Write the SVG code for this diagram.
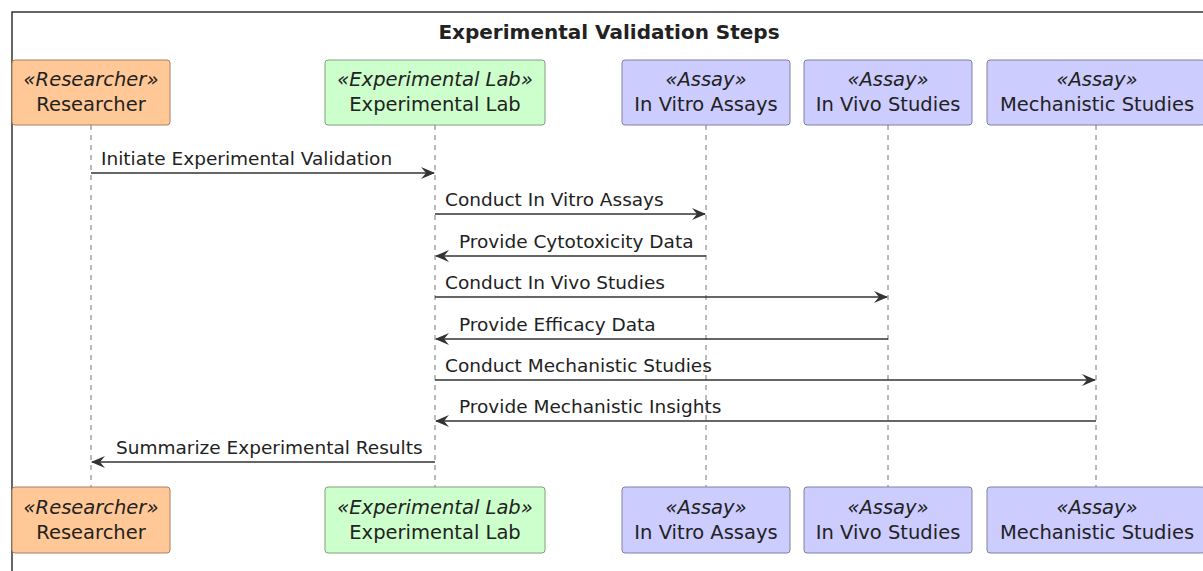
<svg xmlns="http://www.w3.org/2000/svg" width="1203" height="571" viewBox="0 0 1203 571">
<style>
text{font-family:"DejaVu Sans",sans-serif;fill:#222}
.t{font-size:20px;font-weight:bold;text-anchor:middle}
.st{font-size:19.5px;font-style:italic;text-anchor:middle}
.nm{font-size:19.5px;text-anchor:middle}
.m{font-size:18.5px}
.life{stroke:#777;stroke-width:1;stroke-dasharray:5 5}
.msg{stroke:#333;stroke-width:1.5;fill:none}
.r{fill:#FFC896;stroke:#A88060;stroke-width:1}
.g{fill:#CCFFCC;stroke:#80A080;stroke-width:1}
.p{fill:#CCCCFF;stroke:#8080A0;stroke-width:1}
</style>
<defs>
<marker id="ah" markerWidth="14" markerHeight="12" refX="13" refY="6" orient="auto" markerUnits="userSpaceOnUse">
<path d="M0,0 L14,6 L0,12 L5,6 Z" fill="#333"/>
</marker>
</defs>
<rect x="0" y="0" width="1203" height="571" fill="#fff"/>
<rect x="12" y="12" width="1200" height="600" fill="none" stroke="#000" stroke-width="1.2"/>
<text class="t" x="609" y="39">Experimental Validation Steps</text>
<g id="lifelines">
<line class="life" x1="91" y1="125" x2="91" y2="487"/>
<line class="life" x1="435" y1="125" x2="435" y2="487"/>
<line class="life" x1="706" y1="125" x2="706" y2="487"/>
<line class="life" x1="888" y1="125" x2="888" y2="487"/>
<line class="life" x1="1096" y1="125" x2="1096" y2="487"/>
</g>
<g id="researcher">
<rect class="r" x="12" y="60" width="158" height="65" rx="3"/>
<text class="st" x="91" y="86">«Researcher»</text>
<text class="nm" x="91" y="111">Researcher</text>
<rect class="r" x="12" y="487" width="158" height="66" rx="3"/>
<text class="st" x="91" y="514">«Researcher»</text>
<text class="nm" x="91" y="539">Researcher</text>
</g>
<g id="lab">
<rect class="g" x="325" y="60" width="220" height="65" rx="3"/>
<text class="st" x="435" y="86">«Experimental Lab»</text>
<text class="nm" x="435" y="111">Experimental Lab</text>
<rect class="g" x="325" y="487" width="220" height="66" rx="3"/>
<text class="st" x="435" y="514">«Experimental Lab»</text>
<text class="nm" x="435" y="539">Experimental Lab</text>
</g>
<g id="invitro">
<rect class="p" x="622" y="60" width="168" height="65" rx="3"/>
<text class="st" x="706" y="86">«Assay»</text>
<text class="nm" x="706" y="111">In Vitro Assays</text>
<rect class="p" x="622" y="487" width="168" height="66" rx="3"/>
<text class="st" x="706" y="514">«Assay»</text>
<text class="nm" x="706" y="539">In Vitro Assays</text>
</g>
<g id="invivo">
<rect class="p" x="804" y="60" width="168" height="65" rx="3"/>
<text class="st" x="888" y="86">«Assay»</text>
<text class="nm" x="888" y="111">In Vivo Studies</text>
<rect class="p" x="804" y="487" width="168" height="66" rx="3"/>
<text class="st" x="888" y="514">«Assay»</text>
<text class="nm" x="888" y="539">In Vivo Studies</text>
</g>
<g id="mechanistic">
<rect class="p" x="987" y="60" width="218" height="65" rx="3"/>
<text class="st" x="1097" y="86">«Assay»</text>
<text class="nm" x="1097" y="111">Mechanistic Studies</text>
<rect class="p" x="987" y="487" width="218" height="66" rx="3"/>
<text class="st" x="1097" y="514">«Assay»</text>
<text class="nm" x="1097" y="539">Mechanistic Studies</text>
</g>
<g id="connectors">
<line class="msg" x1="91" y1="173" x2="434" y2="173" marker-end="url(#ah)"/>
<text class="m" x="101" y="165">Initiate Experimental Validation</text>
<line class="msg" x1="435" y1="214" x2="705" y2="214" marker-end="url(#ah)"/>
<text class="m" x="445" y="206">Conduct In Vitro Assays</text>
<line class="msg" x1="706" y1="256" x2="436" y2="256" marker-end="url(#ah)"/>
<text class="m" x="459" y="248">Provide Cytotoxicity Data</text>
<line class="msg" x1="435" y1="297" x2="887" y2="297" marker-end="url(#ah)"/>
<text class="m" x="445" y="289">Conduct In Vivo Studies</text>
<line class="msg" x1="888" y1="339" x2="436" y2="339" marker-end="url(#ah)"/>
<text class="m" x="459" y="331">Provide Efficacy Data</text>
<line class="msg" x1="435" y1="380" x2="1095" y2="380" marker-end="url(#ah)"/>
<text class="m" x="445" y="372">Conduct Mechanistic Studies</text>
<line class="msg" x1="1096" y1="421" x2="436" y2="421" marker-end="url(#ah)"/>
<text class="m" x="459" y="413">Provide Mechanistic Insights</text>
<line class="msg" x1="435" y1="462" x2="92" y2="462" marker-end="url(#ah)"/>
<text class="m" x="116" y="454">Summarize Experimental Results</text>
</g>
</svg>
